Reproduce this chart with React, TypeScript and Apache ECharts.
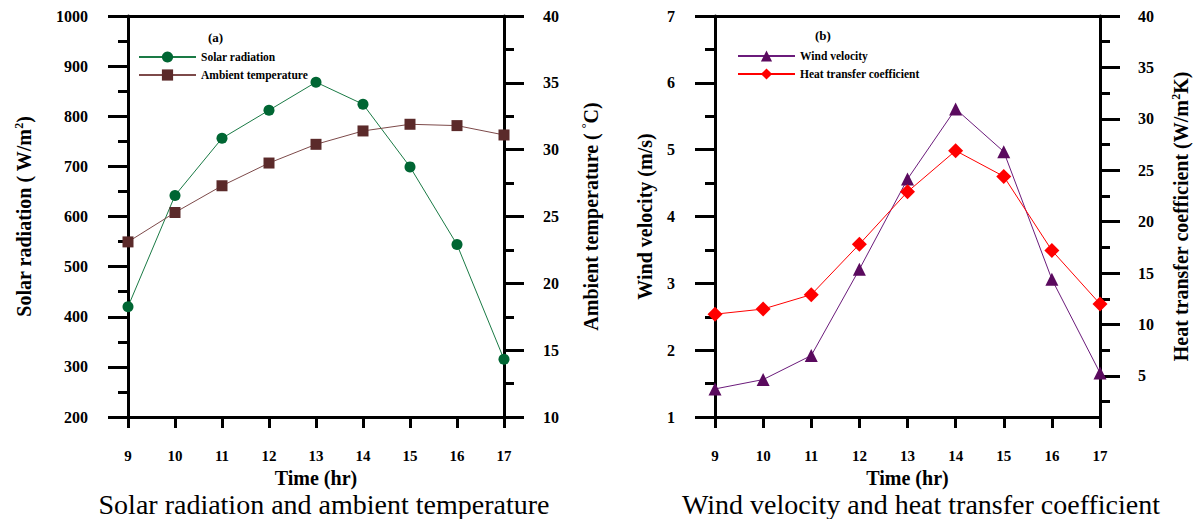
import React, { useEffect, useRef } from "react";
import * as echarts from "echarts";

const hours = ["9", "10", "11", "12", "13", "14", "15", "16", "17"];
const solarRadiation = [420, 642, 756, 812, 868, 824, 699, 544, 315];
const ambientTemperature = [23.1, 25.3, 27.3, 29.0, 30.4, 31.4, 31.9, 31.8, 31.1];
const windVelocity = [1.42, 1.56, 1.92, 3.21, 4.56, 5.61, 4.97, 3.06, 1.66];
const heatTransfer = [11.0, 11.5, 12.9, 17.8, 22.9, 26.9, 24.4, 17.2, 12.0];
const heatMajorTicks = [5, 10, 15, 20, 25, 30, 35, 40];
const heatMinorTicks = [2.5, 7.5, 12.5, 17.5, 22.5, 27.5, 32.5, 37.5];

const SERIF = "'Liberation Serif', 'Times New Roman', serif";
const AXIS_W = 3;

function bottomX(gridIndex: number) {
  return {
    type: "category",
    gridIndex,
    data: hours,
    boundaryGap: false,
    position: "bottom",
    name: "Time (hr)",
    nameLocation: "middle",
    nameGap: 50,
    nameTextStyle: { fontFamily: SERIF, fontWeight: "bold", fontSize: 20, color: "#000" },
    axisLine: { show: true, lineStyle: { color: "#000", width: AXIS_W } },
    axisTick: { show: true, inside: false, length: 11, alignWithLabel: true, lineStyle: { color: "#000", width: AXIS_W } },
    axisLabel: { margin: 31, fontFamily: SERIF, fontWeight: "bold", fontSize: 15, color: "#000" },
    splitLine: { show: false },
  };
}

function topX(gridIndex: number) {
  return {
    type: "category",
    gridIndex,
    data: hours,
    boundaryGap: false,
    position: "top",
    axisLine: { show: true, lineStyle: { color: "#000", width: AXIS_W } },
    axisTick: { show: false },
    axisLabel: { show: false },
    splitLine: { show: false },
  };
}

const nameStyle = (fontSize: number) => ({
  fontFamily: SERIF,
  fontWeight: "bold",
  fontSize,
  color: "#000",
  rich: {
    sup: { fontFamily: SERIF, fontWeight: "bold", fontSize: 12, color: "#000", verticalAlign: "top", padding: [0, 0, 10, 0] },
  },
});

const labelStyle = (margin: number, extra: any = {}) => ({
  margin,
  fontFamily: SERIF,
  fontWeight: "bold",
  fontSize: 16,
  color: "#000",
  formatter: (v: number) => String(v),
  ...extra,
});

function valueY(opts: any) {
  return {
    type: "value",
    nameLocation: "middle",
    nameRotate: 90,
    axisLine: { show: true, lineStyle: { color: "#000", width: AXIS_W } },
    axisTick: { show: true, inside: false, length: 20, lineStyle: { color: "#000", width: AXIS_W } },
    minorTick: { show: true, splitNumber: 2, length: 10, lineStyle: { color: "#000", width: AXIS_W } },
    axisLabel: labelStyle(40),
    splitLine: { show: false },
    minorSplitLine: { show: false },
    ...opts,
  };
}

export default function App() {
  const ref = useRef<HTMLDivElement>(null);
  useEffect(() => {
    if (!ref.current) return;
    const chart = echarts.init(ref.current, undefined, { renderer: "svg" });
    const option: any = {
      animation: false,
      backgroundColor: "#fff",
      grid: [
        { left: 128, top: 16, width: 376, height: 401 },
        { left: 715, top: 16, width: 385, height: 401 },
      ],
      xAxis: [bottomX(0), topX(0), bottomX(1), topX(1)],
      yAxis: [
        valueY({
          gridIndex: 0, position: "left", min: 200, max: 1000, interval: 100,
          name: "Solar radiation ( W/m{sup|2})", nameGap: 93, nameTextStyle: nameStyle(20),
        }),
        valueY({
          gridIndex: 0, position: "right", min: 10, max: 40, interval: 5,
          name: "Ambient temperature ( {sup|°}C)", nameGap: 76, nameTextStyle: nameStyle(20),
          axisLabel: labelStyle(39),
        }),
        valueY({
          gridIndex: 1, position: "left", min: 1, max: 7, interval: 1,
          name: "Wind velocity (m/s)", nameGap: 60, nameTextStyle: nameStyle(20),
        }),
        valueY({
          gridIndex: 1, position: "right", min: 1, max: 40,
          name: "Heat transfer coefficient (W/m{sup|2}K)", nameGap: 70, nameTextStyle: nameStyle(20),
          axisTick: { show: true, inside: false, length: 20, customValues: heatMajorTicks, lineStyle: { color: "#000", width: AXIS_W } },
          minorTick: { show: false },
          axisLabel: labelStyle(38, { customValues: heatMajorTicks }),
        }),
        valueY({
          gridIndex: 1, position: "right", min: 1, max: 40,
          axisLine: { show: false },
          axisTick: { show: true, inside: false, length: 10, customValues: heatMinorTicks, lineStyle: { color: "#000", width: AXIS_W } },
          minorTick: { show: false },
          axisLabel: { show: false },
        }),
      ],
      legend: [
        {
          data: ["Solar radiation", "Ambient temperature"],
          orient: "vertical", left: 133, top: 46, itemWidth: 57, itemHeight: 14, itemGap: 6,
          textStyle: { fontFamily: SERIF, fontWeight: "bold", fontSize: 11.5, color: "#000" },
        },
        {
          data: ["Wind velocity", "Heat transfer coefficient"],
          orient: "vertical", left: 732, top: 45, itemWidth: 57, itemHeight: 14, itemGap: 6,
          textStyle: { fontFamily: SERIF, fontWeight: "bold", fontSize: 11.5, color: "#000" },
        },
      ],
      graphic: [
        { type: "text", left: 208, top: 31, style: { text: "(a)", font: `bold 13px ${SERIF}`, fill: "#000" } },
        { type: "text", left: 815, top: 29, style: { text: "(b)", font: `bold 13px ${SERIF}`, fill: "#000" } },
        {
          type: "text", x: 324, y: 504,
          style: { text: "Solar radiation and ambient temperature", font: `28px ${SERIF}`, fill: "#000", textAlign: "center", textVerticalAlign: "middle" },
        },
        {
          type: "text", x: 921, y: 504,
          style: { text: "Wind velocity and heat transfer coefficient", font: `28px ${SERIF}`, fill: "#000", textAlign: "center", textVerticalAlign: "middle" },
        },
      ],
      series: [
        {
          name: "Solar radiation", type: "line", xAxisIndex: 0, yAxisIndex: 0, data: solarRadiation,
          symbol: "circle", symbolSize: 11, clip: false,
          itemStyle: { color: "#006633" }, lineStyle: { color: "#1a7a45", width: 1 },
        },
        {
          name: "Ambient temperature", type: "line", xAxisIndex: 0, yAxisIndex: 1, data: ambientTemperature,
          symbol: "rect", symbolSize: 11, clip: false,
          itemStyle: { color: "#5b2a2a" }, lineStyle: { color: "#7d4a4a", width: 1 },
        },
        {
          name: "Wind velocity", type: "line", xAxisIndex: 2, yAxisIndex: 2, data: windVelocity,
          symbol: "triangle", symbolSize: 13, clip: false,
          itemStyle: { color: "#5a0a5e" }, lineStyle: { color: "#6b1b7b", width: 1 },
        },
        {
          name: "Heat transfer coefficient", type: "line", xAxisIndex: 2, yAxisIndex: 3, data: heatTransfer,
          symbol: "diamond", symbolSize: 15, clip: false,
          itemStyle: { color: "#ff0000" }, lineStyle: { color: "#ff0000", width: 1 },
        },
      ],
    };
    chart.setOption(option);
    return () => chart.dispose();
  }, []);
  return <div ref={ref} style={{ position: "absolute", left: 0, top: 0, width: 1195, height: 519 }} />;
}
